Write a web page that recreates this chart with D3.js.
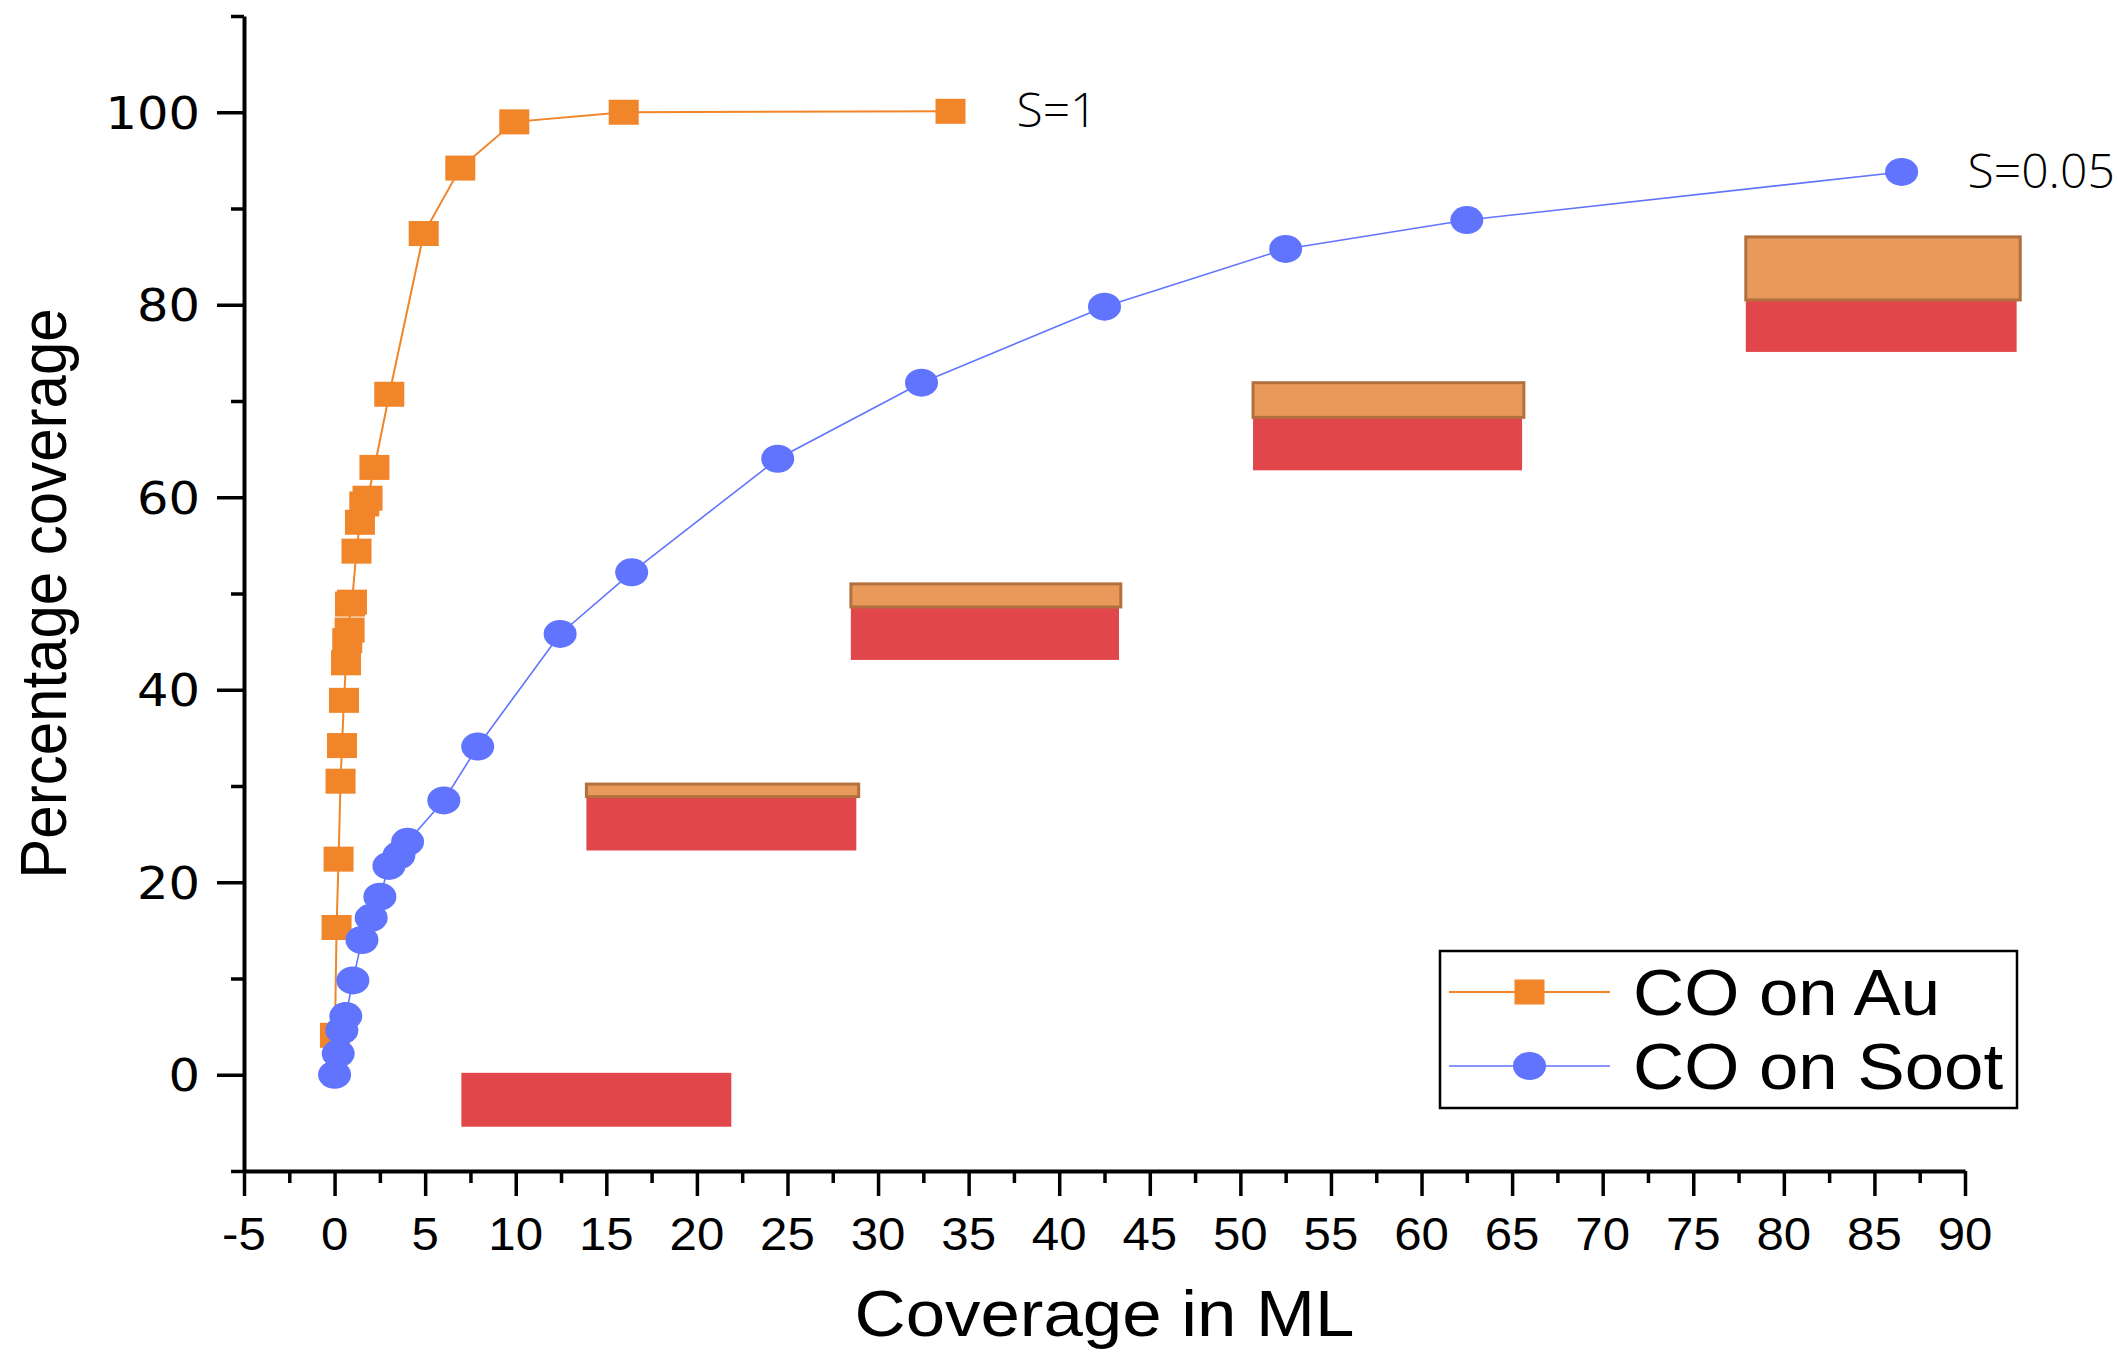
<!DOCTYPE html>
<html>
<head>
<meta charset="utf-8">
<script src="https://cdn.jsdelivr.net/npm/d3@7"></script>
<style>
  body { margin: 0; background: #fff; }
  svg { display: block; }
</style>
</head>
<body>
<svg id="chart" width="2118" height="1353"></svg>
<script>
// CO adsorption on Au (sticking coefficient 1)
const auX = [0.02, 0.11, 0.22, 0.33, 0.41, 0.52, 0.63, 0.70, 0.83, 0.85, 0.96, 1.21, 1.40, 1.64, 1.82, 2.2, 3.02, 4.92, 6.94, 9.92, 15.96, 34.0];
const auY = [4.1, 15.3, 22.4, 30.5, 34.2, 38.9, 42.8, 45.1, 46.2, 48.9, 49.1, 54.4, 57.4, 59.3, 59.9, 63.1, 70.7, 87.4, 94.2, 99.0, 100.0, 100.1];

// CO adsorption on soot (sticking coefficient 0.05)
const sootX = [0, 0.2, 0.4, 0.62, 1.01, 1.51, 2.02, 2.5, 3.0, 3.55, 4.03, 6.03, 7.9, 12.45, 16.4, 24.46, 32.4, 42.5, 52.5, 62.5, 86.5];
const sootY = [0, 2.2, 4.6, 6.1, 9.8, 14.0, 16.3, 18.5, 21.7, 22.8, 24.2, 28.5, 34.1, 45.8, 52.2, 64.0, 71.9, 79.8, 85.8, 88.8, 93.8];

// stacked layer blocks: red base layer and orange cap
const blockStart = [7.0, 13.9, 28.5, 50.7, 77.9];
const redEnd     = [21.9, 28.8, 43.3, 65.55, 92.85];
const redLow     = [-5.4, 23.3, 43.1, 62.8, 75.1];
const redHigh    = [0.2, 28.9, 48.6, 68.3, 80.5];
const capEnd     = [null, 28.93, 43.4, 65.65, 93.05];
const capHigh    = [null, 30.2, 51.0, 71.9, 87.05];

const xTicks = d3.range(-5, 91, 5);
const xMinor = d3.range(-2.5, 90, 5);
const yTicks = [0, 20, 40, 60, 80, 100];
const yMinor = [-10, 10, 30, 50, 70, 90, 110];
const seriesNames = ["CO on Au", "CO on Soot"];
const endLabels = ["S=1", "S=0.05"];

const ORANGE = "#F0852A";
const BLUE = "#6074FE";
const RED = "#E0464A";
const CAP = "#E99A5A";
const CAP_EDGE = "#B3703F";

const svg = d3.select("#chart");
const x = d3.scaleLinear().domain([-5, 90]).range([244, 1965]);
const y = d3.scaleLinear().domain([-10, 110]).range([1171, 16]);

// blocks
const blocks = d3.range(blockStart.length);
svg.append("g").selectAll("rect").data(blocks).join("rect")
  .attr("x", i => x(blockStart[i]))
  .attr("width", i => x(redEnd[i]) - x(blockStart[i]))
  .attr("y", i => y(redHigh[i]))
  .attr("height", i => y(redLow[i]) - y(redHigh[i]))
  .attr("fill", RED);
svg.append("g").selectAll("rect").data(blocks.filter(i => capHigh[i] != null)).join("rect")
  .attr("x", i => x(blockStart[i]))
  .attr("width", i => x(capEnd[i]) - x(blockStart[i]))
  .attr("y", i => y(capHigh[i]))
  .attr("height", i => y(redHigh[i]) - y(capHigh[i]))
  .attr("fill", CAP)
  .attr("stroke", CAP_EDGE)
  .attr("stroke-width", 3);

// axes
const axisG = svg.append("g");
axisG.append("g").attr("transform", `translate(0,${y(-10)})`)
  .call(d3.axisBottom(x).tickValues(xTicks).tickSize(25).tickSizeOuter(0).tickFormat(""));
axisG.append("g").attr("transform", `translate(0,${y(-10)})`)
  .call(d3.axisBottom(x).tickValues(xMinor).tickSize(12).tickSizeOuter(0).tickFormat(""))
  .select(".domain").remove();
axisG.append("g").attr("transform", `translate(${x(-5)},0)`)
  .call(d3.axisLeft(y).tickValues(yTicks).tickSize(27).tickSizeOuter(0).tickFormat(""));
axisG.append("g").attr("transform", `translate(${x(-5)},0)`)
  .call(d3.axisLeft(y).tickValues(yMinor).tickSize(13).tickSizeOuter(0).tickFormat(""))
  .select(".domain").remove();
axisG.selectAll(".domain").attr("stroke", "#000").attr("stroke-width", 4);
axisG.selectAll(".tick line").attr("stroke", "#000").attr("stroke-width", 3.5);

// tick labels
svg.append("g").selectAll("text").data(xTicks).join("text")
  .attr("transform", d => `translate(${x(d)},1250) scale(1.07,1)`)
  .attr("text-anchor", "middle")
  .attr("font-family", "'Liberation Sans', Arial, sans-serif")
  .attr("font-size", 46)
  .text(d => d);
svg.append("g").selectAll("text").data(yTicks).join("text")
  .attr("transform", d => `translate(200,${y(d) + 16.5}) scale(1.1,1)`)
  .attr("text-anchor", "end")
  .attr("font-family", "'DejaVu Sans', sans-serif")
  .attr("font-size", 45)
  .text(d => d);

// axis titles
svg.append("text")
  .attr("transform", `translate(${(x(-5) + x(90)) / 2},1336) scale(1.09,1)`)
  .attr("text-anchor", "middle")
  .attr("font-family", "'Liberation Sans', Arial, sans-serif")
  .attr("font-size", 65)
  .text("Coverage in ML");
svg.append("text")
  .attr("transform", `translate(66,${(y(110) + y(-10)) / 2}) rotate(-90) scale(1,1.09)`)
  .attr("text-anchor", "middle")
  .attr("font-family", "'Liberation Sans', Arial, sans-serif")
  .attr("font-size", 60)
  .text("Percentage coverage");

// series lines
const auPts = auX.map((v, i) => [v, auY[i]]);
const sootPts = sootX.map((v, i) => [v, sootY[i]]);
const line = d3.line().x(d => x(d[0])).y(d => y(d[1]));
svg.append("path").datum(auPts).attr("d", line)
  .attr("fill", "none").attr("stroke", ORANGE).attr("stroke-width", 2);
svg.append("path").datum(sootPts).attr("d", line)
  .attr("fill", "none").attr("stroke", BLUE).attr("stroke-width", 1.6);

// markers
svg.append("g").selectAll("rect").data(auPts).join("rect")
  .attr("x", d => x(d[0]) - 15).attr("y", d => y(d[1]) - 12.5)
  .attr("width", 30).attr("height", 25)
  .attr("fill", ORANGE);
svg.append("g").selectAll("ellipse").data(sootPts).join("ellipse")
  .attr("cx", d => x(d[0])).attr("cy", d => y(d[1]))
  .attr("rx", 16.5).attr("ry", 14)
  .attr("fill", BLUE);

// end-of-series labels
const lastPts = [auPts[auPts.length - 1], sootPts[sootPts.length - 1]];
svg.append("g").selectAll("text").data(lastPts).join("text")
  .attr("x", d => x(d[0]) + 66)
  .attr("y", d => y(d[1]) + 16)
  .attr("font-family", "'Open Sans', sans-serif")
  .attr("font-weight", 300)
  .attr("font-size", 48)
  .text((d, i) => endLabels[i]);

// legend
const lg = svg.append("g");
lg.append("rect").attr("x", 1440).attr("y", 951).attr("width", 577).attr("height", 157)
  .attr("fill", "#fff").attr("stroke", "#000").attr("stroke-width", 2.5);
const rows = [992, 1066];
const colors = [ORANGE, BLUE];
rows.forEach((ry, i) => {
  lg.append("line").attr("x1", 1449).attr("x2", 1610).attr("y1", ry).attr("y2", ry)
    .attr("stroke", colors[i]).attr("stroke-width", i === 0 ? 2 : 1.6);
  if (i === 0) {
    lg.append("rect").attr("x", 1529.5 - 15).attr("y", ry - 12.5).attr("width", 30).attr("height", 25).attr("fill", ORANGE);
  } else {
    lg.append("ellipse").attr("cx", 1529.5).attr("cy", ry).attr("rx", 16.5).attr("ry", 14).attr("fill", BLUE);
  }
  lg.append("text")
    .attr("transform", `translate(1633,${ry + 23}) scale(1.09,1)`)
    .attr("font-family", "'Liberation Sans', Arial, sans-serif")
    .attr("font-size", 65)
    .text(seriesNames[i]);
});
</script>
</body>
</html>
